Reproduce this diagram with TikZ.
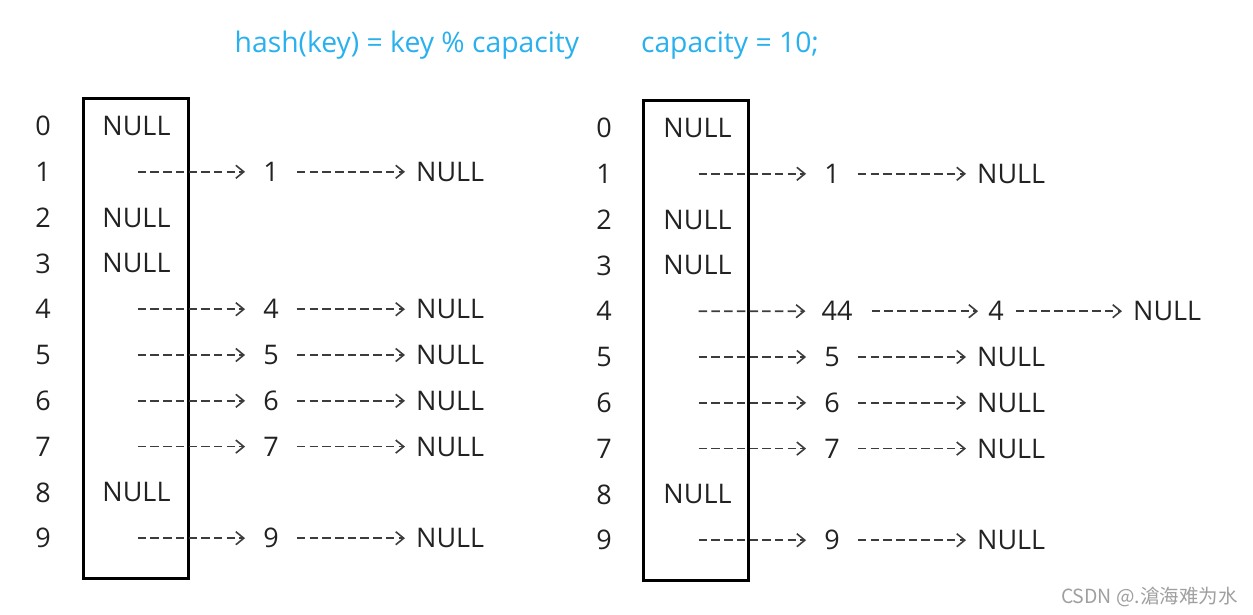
\documentclass[tikz,border=0pt]{standalone}
\usepackage{fontspec}
\setmainfont{Open Sans}
\newfontfamily\cjkfont{Noto Sans CJK SC}
\usetikzlibrary{arrows.meta}
\definecolor{titleblue}{RGB}{41,176,238}
\definecolor{ink}{RGB}{34,34,34}
\definecolor{dash}{RGB}{60,60,60}

\begin{document}
\begin{tikzpicture}[x=1pt,y=-1pt,
    every node/.style={inner sep=0pt,text=ink,font=\fontsize{27}{32}\selectfont},
    bucket/.style={draw=black,line width=3pt,minimum width=105pt,minimum height=480pt},
    link/.style={draw=dash,line width=1.6pt,dash pattern=on 8.5pt off 4.2pt,
        -{Straight Barb[length=8pt,width=13pt,line width=1.6pt]},
        shorten <=18pt,shorten >=11pt},
    head/.style={text=titleblue,anchor=base,font=\fontsize{28.3}{34}\selectfont}]
    \useasboundingbox (0,0) rectangle (1253,614);

    \node[head] (formula) at (407,52) {hash(key) = key \% capacity};
    \node[head] (cap) at (730,52) {capacity = 10;};

    % left table
    \node[bucket] (tabL) at (135.5,338) {};
    \foreach \i in {0,...,9}
        \node (iL\i) at (43,126+45.8*\i) {\i};
    \foreach \i in {0,2,3,8}
        \node (sL\i) at (136.5,126+45.8*\i) {NULL};
    \foreach \i in {1,4,5,6,7,9} {
        \node (sL\i) at (137,126+45.8*\i) {};
        \node (kL\i) at (271,126+45.8*\i) {\i};
        \node[anchor=west] (nL\i) at (416,126+45.8*\i) {NULL};
        \draw[link,shorten <=0pt,shorten >=18pt] (sL\i) -- (kL\i);
        \draw[link] (kL\i) -- (nL\i);
    }

    % right table
    \node[bucket] (tabR) at (696,340) {};
    \foreach \i in {0,...,9}
        \node (iR\i) at (604,128+45.8*\i) {\i};
    \foreach \i in {0,2,3,8}
        \node (sR\i) at (697.5,128+45.8*\i) {NULL};
    \foreach \i in {1,4,5,6,7,9}
        \node (sR\i) at (698,128+45.8*\i) {};
    \foreach \i in {1,5,6,7,9} {
        \node (kR\i) at (832,128+45.8*\i) {\i};
        \node[anchor=west] (nR\i) at (977,128+45.8*\i) {NULL};
        \draw[link,shorten <=0pt,shorten >=18pt] (sR\i) -- (kR\i);
        \draw[link] (kR\i) -- (nR\i);
    }
    \node (kR4) at (837,311.2) {44};
    \node (mR4) at (996,311.2) {4};
    \node[anchor=west] (nR4) at (1133,311.2) {NULL};
    \draw[link,shorten <=0pt,shorten >=16pt] (sR4) -- (kR4);
    \draw[link,shorten <=19pt,shorten >=10pt] (kR4) -- (mR4);
    \draw[link,shorten <=12pt] (mR4) -- (nR4);

    \node[anchor=base east,text=gray!75,font=\cjkfont\fontsize{19.5}{23}\selectfont]
        (mark) at (1238,603) {CSDN @.滄海难为水};
\end{tikzpicture}
\end{document}
